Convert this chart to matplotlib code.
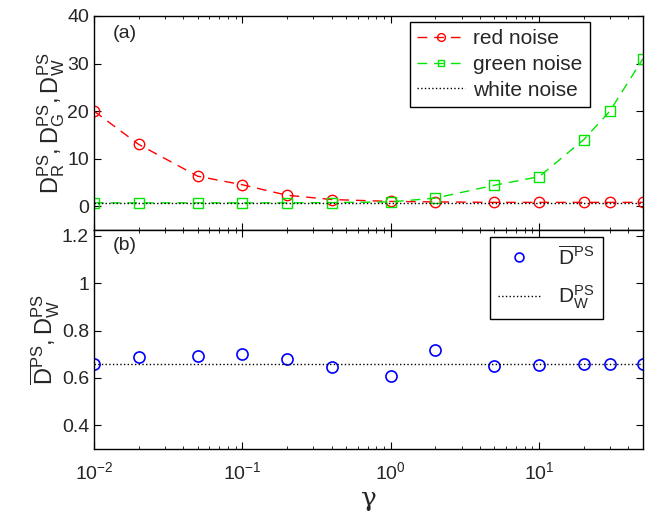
import numpy as np
import matplotlib
matplotlib.use('Agg')
from matplotlib import pyplot as plt
from matplotlib.ticker import LogLocator, NullFormatter

plt.rcParams['font.family'] = ['Liberation Sans', 'DejaVu Sans']
plt.rcParams['mathtext.fontset'] = 'custom'
plt.rcParams['mathtext.rm'] = 'Liberation Sans'
plt.rcParams['mathtext.it'] = 'Liberation Sans'
plt.rcParams['mathtext.bf'] = 'Liberation Sans'
plt.rcParams['text.color'] = '#262626'
plt.rcParams['axes.labelcolor'] = '#262626'
plt.rcParams['xtick.labelcolor'] = '#262626'
plt.rcParams['ytick.labelcolor'] = '#262626'

# data
gamma = [0.01, 0.02, 0.05, 0.1, 0.2, 0.4, 1, 2, 5, 10, 20, 30, 50]
red_noise = [20, 13, 6.3, 4.5, 2.3, 1.4, 1.0, 0.9, 0.8, 0.8, 0.8, 0.8, 0.8]
green_noise = [0.7, 0.7, 0.7, 0.7, 0.7, 0.75, 0.9, 1.7, 4.4, 6.2, 14, 20, 31]
white_noise = 0.66
d_mean = [0.66, 0.688, 0.694, 0.70, 0.68, 0.646, 0.607, 0.72, 0.65, 0.655, 0.66, 0.66, 0.66]

fig = plt.figure(figsize=(6.6, 5.11), dpi=100)
ax1 = fig.add_axes([0.1424, 0.55, 0.8316, 0.4187])
ax2 = fig.add_axes([0.1424, 0.1213, 0.8316, 0.4287])

# panel (a)
ax1.plot(gamma, red_noise, '--', color='red', marker='o', mfc='none', ms=7.5, mew=1, lw=1,
         dashes=(7, 5), label='red noise')
ax1.plot(gamma, green_noise, '--', color='#00e600', marker='s', mfc='none', ms=6.5, mew=1, lw=1,
         dashes=(7, 5), label='green noise')
ax1.plot(gamma, [white_noise] * len(gamma), ':', color='black', lw=1, label='white noise')
ax1.set_xscale('log')
ax1.set_xlim(0.01, 50)
ax1.set_ylim(-5, 40)
ax1.set_yticks([0, 10, 20, 30, 40])
ax1.xaxis.set_major_formatter(NullFormatter())
ax1.set_ylabel(r'$\mathrm{D^{PS}_R,D^{PS}_G,D^{PS}_W}$', fontsize=17, labelpad=0)
ax1.text(0.035, 0.92, '(a)', transform=ax1.transAxes, fontsize=14, va='center')
leg1 = ax1.legend(loc='upper right', bbox_to_anchor=(0.9035, 0.972), borderaxespad=0,
                  fontsize=15, fancybox=False, edgecolor='black', framealpha=1,
                  handlelength=2.3, borderpad=0.35, labelspacing=0.32, handletextpad=0.4,
                  markerscale=0.75)
leg1.get_frame().set_linewidth(1)

# panel (b)
ax2.plot(gamma, d_mean, 'o', color='blue', mfc='none', ms=8, mew=1.2,
         label=r'$\mathrm{\overline{D}^{PS}}$')
ax2.plot(gamma, [white_noise] * len(gamma), ':', color='black', lw=1, label=r'$\mathrm{D^{PS}_W}$')
ax2.set_xscale('log')
ax2.set_xlim(0.01, 50)
ax2.set_ylim(0.3, 1.225)
ax2.set_yticks([0.4, 0.6, 0.8, 1.0, 1.2])
ax2.set_yticklabels(['0.4', '0.6', '0.8', '1', '1.2'])
ax2.set_ylabel(r'$\mathrm{\overline{D}^{PS},D^{PS}_W}$', fontsize=17, labelpad=0)
ax2.set_xlabel('γ', fontsize=19, family=['DejaVu Serif'], labelpad=2)
ax2.text(0.035, 0.93, '(b)', transform=ax2.transAxes, fontsize=14, va='center')
leg2 = ax2.legend(loc='upper right', bbox_to_anchor=(0.927, 0.968), borderaxespad=0,
                  fontsize=15, fancybox=False, edgecolor='black', framealpha=1,
                  handlelength=2.0, borderpad=0.4, labelspacing=0.7, handletextpad=0.9,
                  markerscale=0.8)
leg2.get_frame().set_linewidth(1)

for ax in (ax1, ax2):
    ax.tick_params(which='both', direction='in', top=True, right=True, labelsize=14)
    ax.tick_params(which='major', length=5)
    ax.tick_params(which='minor', length=2.5)
    ax.tick_params(axis='x', pad=9)
    ax.xaxis.set_major_locator(LogLocator(base=10, numticks=10))
    ax.xaxis.set_minor_locator(LogLocator(base=10, subs=np.arange(2, 10), numticks=10))
    for s in ax.spines.values():
        s.set_linewidth(1)

fig.savefig('out.png', dpi=100)
